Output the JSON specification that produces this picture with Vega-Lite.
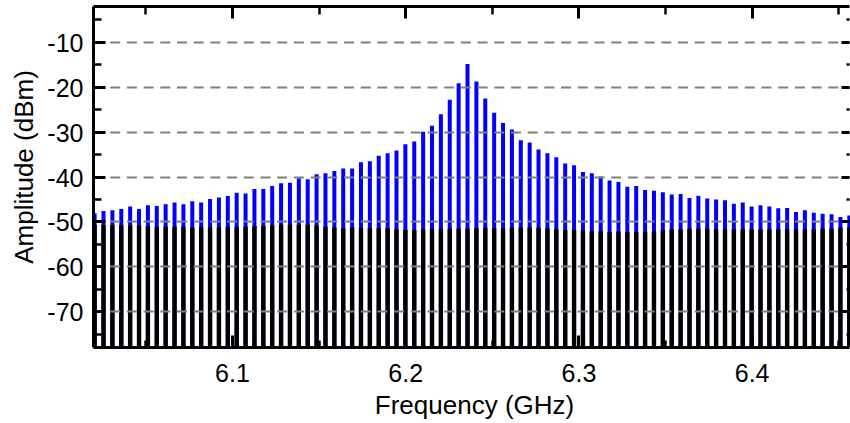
{
  "$schema": "https://vega.github.io/schema/vega-lite/v6.json",
  "width": 756,
  "height": 341,
  "autosize": {"type": "none"},
  "padding": {"left": 93, "top": 6, "right": 1, "bottom": 76},
  "background": "white",
  "config": {
    "view": {"stroke": null},
    "axis": {
      "labelFont": "Liberation Sans",
      "titleFont": "Liberation Sans",
      "labelFontSize": 25,
      "titleFontSize": 26,
      "titleFontWeight": "normal",
      "labelColor": "black",
      "titleColor": "black",
      "tickColor": "black",
      "domainColor": "black",
      "labelFlush": false,
      "labelOverlap": false
    }
  },
  "data": {
    "values": [
      {"f": 6.02074, "blue": -48.2, "black": -50.82},
      {"f": 6.02587, "blue": -47.7, "black": -50.82},
      {"f": 6.03099, "blue": -47.5, "black": -50.82},
      {"f": 6.03612, "blue": -47.25, "black": -50.9},
      {"f": 6.04124, "blue": -46.7, "black": -50.9},
      {"f": 6.04637, "blue": -47.25, "black": -50.9},
      {"f": 6.05149, "blue": -46.4, "black": -51.04},
      {"f": 6.05662, "blue": -46.6, "black": -51.2},
      {"f": 6.06174, "blue": -46.2, "black": -51.2},
      {"f": 6.06687, "blue": -45.8, "black": -51.2},
      {"f": 6.07199, "blue": -46.2, "black": -51.2},
      {"f": 6.07712, "blue": -45.5, "black": -51.34},
      {"f": 6.08224, "blue": -45.8, "black": -51.34},
      {"f": 6.08737, "blue": -45.0, "black": -51.34},
      {"f": 6.09249, "blue": -44.7, "black": -51.34},
      {"f": 6.09762, "blue": -44.35, "black": -51.2},
      {"f": 6.10274, "blue": -43.6, "black": -51.2},
      {"f": 6.10787, "blue": -43.8, "black": -51.2},
      {"f": 6.11299, "blue": -42.8, "black": -51.04},
      {"f": 6.11812, "blue": -42.8, "black": -51.04},
      {"f": 6.12324, "blue": -42.1, "black": -50.9},
      {"f": 6.12837, "blue": -41.5, "black": -50.75},
      {"f": 6.13349, "blue": -41.4, "black": -50.75},
      {"f": 6.13862, "blue": -40.4, "black": -50.75},
      {"f": 6.14374, "blue": -40.6, "black": -50.75},
      {"f": 6.14887, "blue": -39.5, "black": -50.9},
      {"f": 6.15399, "blue": -39.3, "black": -51.2},
      {"f": 6.15912, "blue": -38.8, "black": -51.34},
      {"f": 6.16424, "blue": -38.2, "black": -51.56},
      {"f": 6.16937, "blue": -38.2, "black": -51.34},
      {"f": 6.17449, "blue": -36.8, "black": -51.42},
      {"f": 6.17962, "blue": -36.6, "black": -51.49},
      {"f": 6.18474, "blue": -35.4, "black": -51.49},
      {"f": 6.18987, "blue": -34.8, "black": -51.49},
      {"f": 6.19499, "blue": -34.2, "black": -51.79},
      {"f": 6.20012, "blue": -32.8, "black": -51.94},
      {"f": 6.20524, "blue": -32.2, "black": -51.94},
      {"f": 6.21037, "blue": -30.0, "black": -51.79},
      {"f": 6.21549, "blue": -28.7, "black": -51.64},
      {"f": 6.22062, "blue": -26.1, "black": -51.64},
      {"f": 6.22574, "blue": -22.9, "black": -51.64},
      {"f": 6.23087, "blue": -19.2, "black": -51.64},
      {"f": 6.23599, "blue": -14.9, "black": -51.64},
      {"f": 6.24112, "blue": -18.8, "black": -51.49},
      {"f": 6.24624, "blue": -22.6, "black": -51.42},
      {"f": 6.25137, "blue": -25.8, "black": -51.49},
      {"f": 6.25649, "blue": -28.1, "black": -51.56},
      {"f": 6.26162, "blue": -29.5, "black": -51.42},
      {"f": 6.26674, "blue": -31.9, "black": -51.34},
      {"f": 6.27187, "blue": -32.4, "black": -51.34},
      {"f": 6.27699, "blue": -34.0, "black": -51.42},
      {"f": 6.28212, "blue": -34.8, "black": -51.56},
      {"f": 6.28724, "blue": -35.7, "black": -51.79},
      {"f": 6.29237, "blue": -37.1, "black": -51.94},
      {"f": 6.29749, "blue": -37.5, "black": -51.94},
      {"f": 6.30262, "blue": -39.0, "black": -51.94},
      {"f": 6.30774, "blue": -39.3, "black": -52.16},
      {"f": 6.31287, "blue": -40.0, "black": -52.16},
      {"f": 6.31799, "blue": -40.9, "black": -52.38},
      {"f": 6.32312, "blue": -41.2, "black": -52.23},
      {"f": 6.32824, "blue": -42.3, "black": -52.38},
      {"f": 6.33337, "blue": -42.1, "black": -52.38},
      {"f": 6.33849, "blue": -43.0, "black": -52.31},
      {"f": 6.34362, "blue": -43.2, "black": -52.23},
      {"f": 6.34874, "blue": -43.5, "black": -51.94},
      {"f": 6.35387, "blue": -44.0, "black": -51.79},
      {"f": 6.35899, "blue": -43.9, "black": -51.79},
      {"f": 6.36412, "blue": -44.8, "black": -51.64},
      {"f": 6.36924, "blue": -44.3, "black": -51.64},
      {"f": 6.37437, "blue": -44.9, "black": -51.64},
      {"f": 6.37949, "blue": -45.1, "black": -51.79},
      {"f": 6.38462, "blue": -45.3, "black": -51.79},
      {"f": 6.38974, "blue": -46.1, "black": -51.79},
      {"f": 6.39487, "blue": -45.8, "black": -51.79},
      {"f": 6.39999, "blue": -46.7, "black": -51.79},
      {"f": 6.40512, "blue": -46.4, "black": -51.79},
      {"f": 6.41024, "blue": -46.7, "black": -51.79},
      {"f": 6.41537, "blue": -47.1, "black": -51.79},
      {"f": 6.42049, "blue": -47.0, "black": -51.79},
      {"f": 6.42562, "blue": -47.9, "black": -51.79},
      {"f": 6.43074, "blue": -47.5, "black": -51.79},
      {"f": 6.43587, "blue": -48.1, "black": -51.79},
      {"f": 6.44099, "blue": -48.3, "black": -51.64},
      {"f": 6.44612, "blue": -48.4, "black": -51.64},
      {"f": 6.45124, "blue": -49.0, "black": -51.42},
      {"f": 6.45637, "blue": -48.7, "black": -51.34}
    ]
  },
  "resolve": {"axis": {"x": "independent", "y": "independent"}},
  "layer": [
    {
      "mark": {"type": "rule", "color": "#0000ff", "strokeWidth": 4},
      "encoding": {
        "x": {"field": "f", "type": "quantitative",
          "scale": {"domain": [6.0198, 6.4562], "nice": false, "zero": false},
          "axis": {"orient": "bottom", "values": [6.1, 6.2, 6.3, 6.4], "format": ".1f",
            "ticks": false, "grid": false, "domain": true, "domainWidth": 3, "labelPadding": 14.5,
            "title": "Frequency (GHz)", "titleX": 381, "titleY": 66, "titleBaseline": "alphabetic", "titleAlign": "center", "zindex": 1}},
        "y": {"field": "blue", "type": "quantitative",
          "scale": {"domain": [-78, -2], "nice": false, "zero": false},
          "axis": {"orient": "left", "values": [-10, -20, -30, -40, -50, -60, -70],
            "labelExpr": "'-' + abs(datum.value)",
            "ticks": false, "grid": true, "gridColor": "#808080", "gridWidth": 2, "gridDash": [10, 6.7], "gridOpacity": 1,
            "domain": true, "domainWidth": 3, "labelPadding": 10, "labelOffset": 1.5,
            "title": "Amplitude (dBm)", "titleX": -60.7, "titleY": 160.5, "titleBaseline": "alphabetic", "titleAlign": "center", "titleAngle": 270, "zindex": 1}},
        "y2": {"datum": -78}
      }
    },
    {
      "mark": {"type": "rule", "color": "#000000", "strokeWidth": 4.4},
      "encoding": {
        "x": {"field": "f", "type": "quantitative",
          "axis": {"orient": "bottom", "values": [6.1, 6.2, 6.3, 6.4], "labels": false, "ticks": true, "tickSize": -12, "tickWidth": 3,
            "grid": false, "domain": false, "title": null, "zindex": 1}},
        "y": {"field": "black", "type": "quantitative",
          "axis": {"orient": "left", "values": [-10, -20, -30, -40, -50, -60, -70], "labels": false, "ticks": true, "tickSize": -12, "tickWidth": 3,
            "grid": false, "domain": false, "title": null, "zindex": 1}},
        "y2": {"datum": -78}
      }
    },
    {
      "mark": {"type": "rule", "opacity": 0},
      "encoding": {
        "x": {"field": "f", "type": "quantitative",
          "axis": {"orient": "bottom", "values": [6.05, 6.15, 6.25, 6.35, 6.45], "labels": false, "ticks": true, "tickSize": -7, "tickWidth": 2.5,
            "grid": false, "domain": false, "title": null, "zindex": 1}},
        "y": {"field": "black", "type": "quantitative",
          "axis": {"orient": "left", "values": [-5, -15, -25, -35, -45, -55, -65, -75], "labels": false, "ticks": true, "tickSize": -8, "tickWidth": 2.5,
            "grid": false, "domain": false, "title": null, "zindex": 1}}
      }
    },
    {
      "mark": {"type": "rule", "opacity": 0},
      "encoding": {
        "x": {"field": "f", "type": "quantitative",
          "axis": {"orient": "top", "values": [6.1, 6.2, 6.3, 6.4], "labels": false, "ticks": true, "tickSize": -12, "tickWidth": 3,
            "grid": false, "domain": true, "domainWidth": 3, "title": null, "zindex": 1}},
        "y": {"field": "black", "type": "quantitative",
          "axis": {"orient": "right", "values": [-10, -20, -30, -40, -50, -60, -70], "labels": false, "ticks": true, "tickSize": -8, "tickWidth": 3,
            "grid": false, "domain": false, "title": null, "zindex": 1}}
      }
    },
    {
      "mark": {"type": "rule", "opacity": 0},
      "encoding": {
        "x": {"field": "f", "type": "quantitative",
          "axis": {"orient": "top", "values": [6.05, 6.15, 6.25, 6.35, 6.45], "labels": false, "ticks": true, "tickSize": -8, "tickWidth": 2.5,
            "grid": false, "domain": false, "title": null, "zindex": 1}},
        "y": {"field": "black", "type": "quantitative",
          "axis": {"orient": "right", "values": [-5, -15, -25, -35, -45, -55, -65, -75], "labels": false, "ticks": true, "tickSize": -3, "tickWidth": 2.5,
            "grid": false, "domain": false, "title": null, "zindex": 1}}
      }
    }
  ]
}
